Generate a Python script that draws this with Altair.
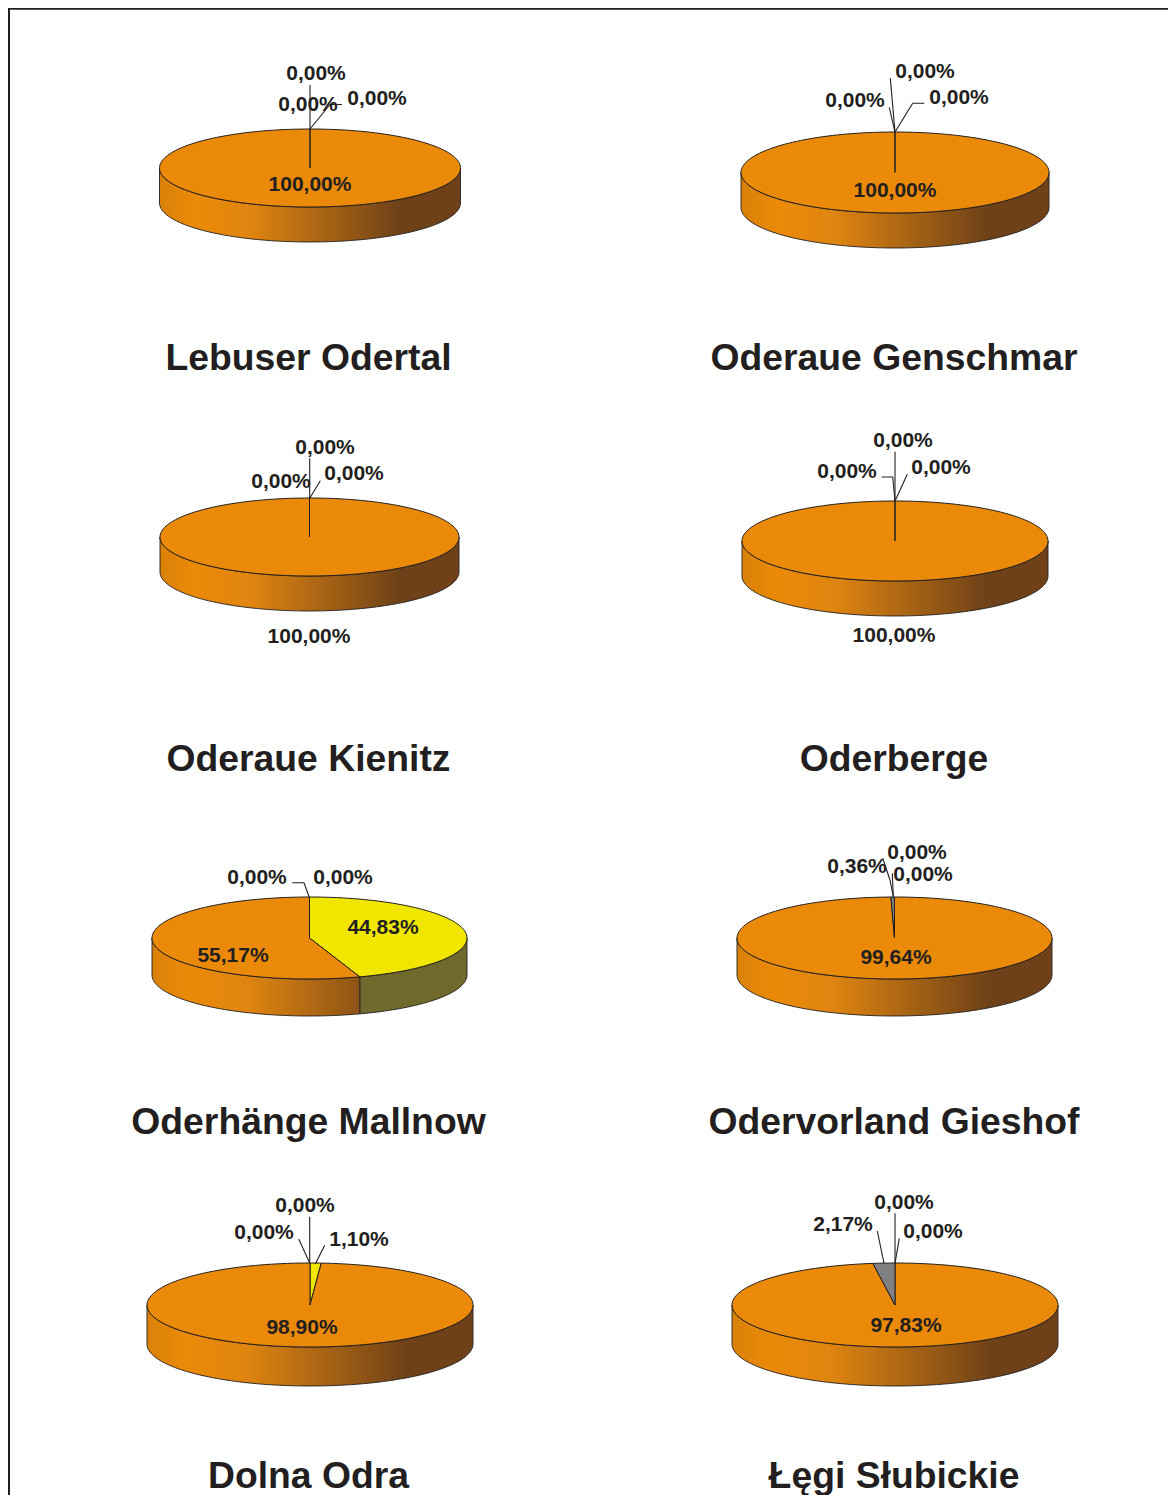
import math
import altair as alt
import pandas as pd

# ---- values (percent of each pie, clockwise from 12 o'clock)
names = ["Lebuser Odertal", "Oderaue Genschmar", "Oderaue Kienitz", "Oderberge",
         "Oderhänge Mallnow", "Odervorland Gieshof", "Dolna Odra", "Łęgi Słubickie"]
yellow_share = [0.0, 0.0, 0.0, 0.0, 44.83, 0.0, 1.10, 0.0]
orange_share = [100.0, 100.0, 100.0, 100.0, 55.17, 99.64, 98.90, 97.83]
grey_share = [0.0, 0.0, 0.0, 0.0, 0.0, 0.36, 0.0, 2.17]

value_labels = [
    ["0,00%", "0,00%", "0,00%", "100,00%"],
    ["0,00%", "0,00%", "0,00%", "100,00%"],
    ["0,00%", "0,00%", "0,00%", "100,00%"],
    ["0,00%", "0,00%", "0,00%", "100,00%"],
    ["0,00%", "0,00%", "44,83%", "55,17%"],
    ["0,36%", "0,00%", "0,00%", "99,64%"],
    ["0,00%", "0,00%", "1,10%", "98,90%"],
    ["2,17%", "0,00%", "0,00%", "97,83%"],
]

# ---- layout: page pixels
pie_cx = [310, 895, 309.5, 895, 309.5, 894.5, 310, 895]
pie_cy = [168, 172.5, 537, 541, 938, 938, 1305, 1305]
pie_rx = [150.5, 154, 149.5, 153, 157.5, 157.5, 163, 163]
pie_ry = [39, 40.5, 39, 40, 41, 41, 42, 42]
pie_depth = [35, 35, 35, 35, 37, 37, 39, 39]

label_x = [[316, 308, 377, 310], [925, 855, 959, 895], [325, 281, 354, 309], [903, 847, 941, 894],
           [257, 343, 383, 233], [857, 917, 923, 896], [305, 264, 359, 302], [843, 904, 933, 906]]
label_y = [[74, 105, 99, 185], [72, 101, 98, 191], [448, 482, 474, 637], [441, 472, 468, 636],
           [878, 878, 928, 956], [867, 853, 875, 958], [1206, 1233, 1240, 1328], [1225, 1203, 1232, 1326]]

title_x = [308.5, 894, 308.5, 894, 308.5, 894, 308.5, 894]
title_y = [359, 359, 760, 760, 1123, 1123, 1477, 1477]

leaders = [
    [(310, 85), (310, 129)],
    [(342, 104.5), (330, 104.5), (310, 129)],
    [(890.3, 78.3), (895, 132)],
    [(889.3, 107.3), (893.3, 125), (895, 132)],
    [(924.3, 103.3), (912.7, 103.3), (895, 132)],
    [(309.7, 458.3), (309.7, 498.3)],
    [(320.3, 480.7), (309.7, 498.3)],
    [(895, 451.7), (895, 501)],
    [(881.7, 477), (892.7, 477), (895, 501)],
    [(907.3, 474.3), (895, 501)],
    [(292.3, 882.7), (304, 882.7), (309.3, 897.5)],
    [(882.7, 858.3), (890, 880), (893.3, 897)],
    [(892.3, 873.3), (893.3, 897)],
    [(309.7, 1216.7), (309.7, 1263)],
    [(298.7, 1239), (309.7, 1263)],
    [(324.7, 1245.3), (315.3, 1264)],
    [(895, 1213.3), (895, 1263.3)],
    [(877.3, 1231), (884, 1263.3)],
    [(899.3, 1238.3), (895, 1263.3)],
]

ORANGE, YELLOW, GREY = "#EB8A08", "#F0E600", "#808080"
INK = "#231F20"
ORANGE_WALL = [(0.0, "#D98108"), (0.12, "#EB8A08"), (0.30, "#E08510"), (0.80, "#6E4118"), (1.0, "#704118")]
YELLOW_WALL = [(0.0, "#8F8A28"), (0.30, "#6F6A2B"), (1.0, "#6F6A2B")]

# The page adds an 8px margin on each side, so the plot stops short of the window edge.
PLOT_W, PLOT_H = 1160, 1487


def mix(a, b, t):
    ca = [int(a[i:i + 2], 16) for i in (1, 3, 5)]
    cb = [int(b[i:i + 2], 16) for i in (1, 3, 5)]
    return "#" + "".join(f"{round(p + (q - p) * t):02X}" for p, q in zip(ca, cb))


def color_at(stops, t):
    for (o0, c0), (o1, c1) in zip(stops, stops[1:]):
        if t <= o1:
            return mix(c0, c1, (t - o0) / (o1 - o0))
    return stops[-1][1]


def clip_stops(stops, t0, t1):
    inner = [(o, c) for o, c in stops if t0 < o < t1]
    full = [(t0, color_at(stops, t0))] + inner + [(t1, color_at(stops, t1))]
    return alt.LinearGradient(
        gradient="linear", x1=0, x2=1, y1=0, y2=0,
        stops=[alt.GradientStop(color=c, offset=(o - t0) / (t1 - t0)) for o, c in full],
    )


def point(i, deg, drop=0.0):
    a = math.radians(deg)
    return pie_cx[i] + pie_rx[i] * math.sin(a), pie_cy[i] - pie_ry[i] * math.cos(a) + drop


def arc(i, d0, d1, drop=0.0):
    n = max(2, int(abs(d1 - d0) / 2) + 2)
    return [point(i, d0 + (d1 - d0) * k / (n - 1), drop) for k in range(n)]


x_scale = alt.Scale(domain=[8, 8 + PLOT_W], range=[0, PLOT_W])
y_scale = alt.Scale(domain=[8, 8 + PLOT_H], range=[0, PLOT_H])
X = alt.X("x:Q", scale=x_scale, axis=None)
Y = alt.Y("y:Q", scale=y_scale, axis=None)

top_rows, wall_layers = [], []
for i in range(len(names)):
    start = 0.0
    slices = [(yellow_share[i], YELLOW, YELLOW_WALL), (orange_share[i], ORANGE, ORANGE_WALL), (grey_share[i], GREY, None)]
    for s, (share, fill, wall_stops) in enumerate(slices):
        if share <= 0:
            continue
        end = start + share * 3.6
        poly = [(pie_cx[i], pie_cy[i])] + arc(i, start, end) + [(pie_cx[i], pie_cy[i])]
        for k, (x, y) in enumerate(poly):
            top_rows.append({"x": x, "y": y, "o": k, "part": f"{i}-{s}", "fill": fill})
        lo, hi = max(start, 90.0), min(end, 270.0)
        if wall_stops and lo < hi:
            upper = arc(i, lo, hi)
            lower = arc(i, hi, lo, pie_depth[i])
            outline = upper + lower + upper[:1]
            wall = pd.DataFrame([{"x": x, "y": y, "o": k} for k, (x, y) in enumerate(outline)])
            xs = [p[0] for p in outline]
            left = pie_cx[i] - pie_rx[i]
            t0 = (min(xs) - left) / (2 * pie_rx[i])
            t1 = (max(xs) - left) / (2 * pie_rx[i])
            wall_layers.append(
                alt.Chart(wall).mark_line(
                    fill=clip_stops(wall_stops, t0, t1), stroke=INK, strokeWidth=0.9
                ).encode(x=X, y=Y, order="o:Q")
            )
        start = end

tops_layers = []
for part, frame in pd.DataFrame(top_rows).groupby("part", sort=False):
    tops_layers.append(
        alt.Chart(frame).mark_line(fill=frame["fill"].iloc[0], stroke=INK, strokeWidth=1.0).encode(x=X, y=Y, order="o:Q")
    )

leader_df = pd.DataFrame(
    [{"x": x, "y": y, "o": k, "id": n} for n, path in enumerate(leaders) for k, (x, y) in enumerate(path)]
)
leader_layer = alt.Chart(leader_df).mark_line(color=INK, strokeWidth=1.1).encode(x=X, y=Y, order="o:Q", detail="id:N")

label_df = pd.DataFrame(
    [{"x": label_x[i][j], "y": label_y[i][j], "t": value_labels[i][j]} for i in range(8) for j in range(4)]
)
label_layer = alt.Chart(label_df).mark_text(
    font="Liberation Sans", fontWeight="bold", fontSize=21, color=INK, align="center", baseline="middle"
).encode(x=X, y=Y, text="t:N")

title_df = pd.DataFrame({"x": title_x, "y": title_y, "t": names})
title_layer = alt.Chart(title_df).mark_text(
    font="Liberation Sans", fontWeight="bold", fontSize=37.3, color=INK, align="center", baseline="middle"
).encode(x=X, y=Y, text="t:N")

frame_h = alt.Chart(pd.DataFrame({"y": [8.8], "a": [8], "b": [8 + PLOT_W]})).mark_rule(color=INK, strokeWidth=2).encode(
    y=Y, x=alt.X("a:Q", scale=x_scale, axis=None), x2="b:Q"
)
frame_v = alt.Chart(pd.DataFrame({"x": [9], "a": [8], "b": [8 + PLOT_H]})).mark_rule(color=INK, strokeWidth=2).encode(
    x=X, y=alt.Y("a:Q", scale=y_scale, axis=None), y2="b:Q"
)

chart = alt.layer(
    frame_h, frame_v, *wall_layers, *tops_layers, leader_layer, label_layer, title_layer
).properties(
    width=PLOT_W, height=PLOT_H, padding=0, autosize=alt.AutoSizeParams(type="none"), background="#FFFFFF"
).configure_view(stroke=None)

chart.save("out.html", embed_options={"renderer": "svg", "actions": False})
